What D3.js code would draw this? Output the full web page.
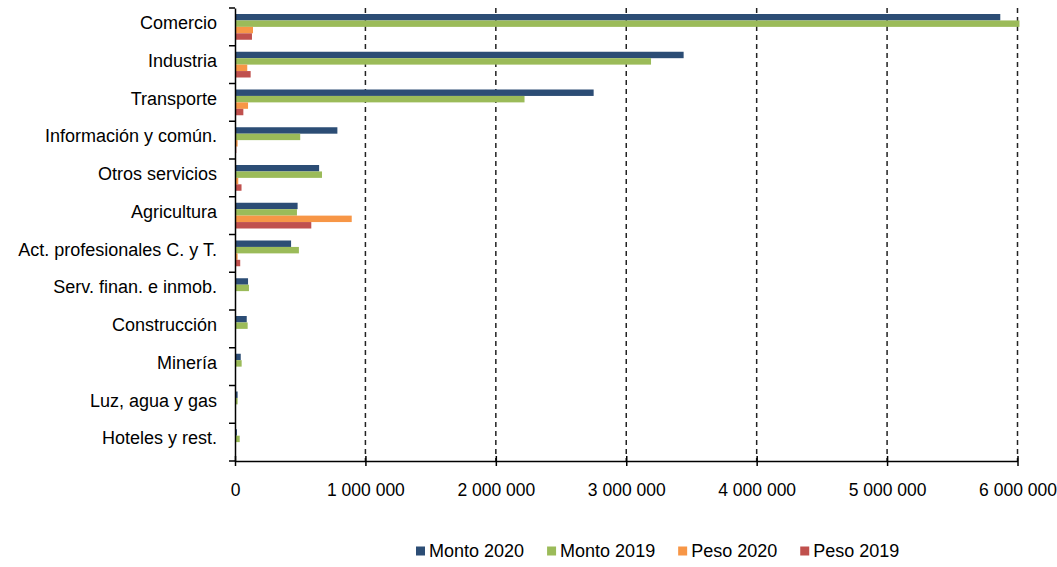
<!DOCTYPE html>
<html>
<head>
<meta charset="utf-8">
<script src="https://cdn.jsdelivr.net/npm/d3@7"></script>
<style>
  body { margin: 0; background: #fff; }
  text { font-family: "Liberation Sans", Arial, sans-serif; fill: #000; }
</style>
</head>
<body>
<div id="chart"></div>
<script>

// categories, top to bottom
var sectores = ["Comercio", "Industria", "Transporte", "Información y común.", "Otros servicios",
  "Agricultura", "Act. profesionales C. y T.", "Serv. finan. e inmob.", "Construcción",
  "Minería", "Luz, agua y gas", "Hoteles y rest."];

var series = ["Monto 2020", "Monto 2019", "Peso 2020", "Peso 2019"];
var colores = ["#2c4d75", "#9bbb59", "#f79646", "#c0504d"];

var monto2020 = [5868000, 3440000, 2750000, 785000, 645000, 480000, 430000, 100000, 90000, 44000, 20000, 15000];
var monto2019 = [6015000, 3190000, 2220000, 500000, 667000, 475000, 490000, 107000, 97000, 51000, 20000, 36000];
var peso2020  = [138000, 94000, 100000, 20000, 25000, 895000, 20000, 0, 0, 0, 0, 0];
var peso2019  = [130000, 120000, 64000, 10000, 50000, 585000, 40000, 0, 0, 0, 0, 0];

var xTicks = [0, 1000000, 2000000, 3000000, 4000000, 5000000, 6000000];
var xTickLabels = ["0", "1 000 000", "2 000 000", "3 000 000", "4 000 000", "5 000 000", "6 000 000"];

var valores = [monto2020, monto2019, peso2020, peso2019];

var W = 1057, H = 567;
var margin = {top: 8, right: 39, bottom: 106, left: 235};
var width = W - margin.left - margin.right,
    height = H - margin.top - margin.bottom;

var svg = d3.select("#chart").append("svg")
    .attr("width", W)
    .attr("height", H);

var g = svg.append("g")
    .attr("transform", "translate(" + margin.left + "," + margin.top + ")");

var x = d3.scaleLinear().domain([0, 6000000]).range([0, 782.5]);
var y = d3.scaleBand().domain(sectores).range([0, height]);
var yInner = d3.scaleBand().domain(series).range([6, y.bandwidth() - 6]);

// dashed gridlines
g.selectAll(".grid")
  .data(xTicks.slice(1))
  .enter().append("line")
    .attr("x1", function(d) { return x(d); })
    .attr("x2", function(d) { return x(d); })
    .attr("y1", 0)
    .attr("y2", height)
    .attr("stroke", "#222")
    .attr("stroke-width", 1.5)
    .attr("stroke-dasharray", "5,4");

// bars
series.forEach(function(s, i) {
  g.selectAll(".bar" + i)
    .data(sectores)
    .enter().append("rect")
      .attr("x", x(0))
      .attr("y", function(d) { return y(d) + yInner(s); })
      .attr("width", function(d, j) { return x(valores[i][j]) - x(0); })
      .attr("height", yInner.bandwidth())
      .attr("fill", colores[i]);
});

// y axis
var yAxis = g.append("g")
    .call(d3.axisLeft(y).tickSize(0).tickPadding(18));
yAxis.select(".domain").attr("stroke", "#000").attr("stroke-width", 1.5);
yAxis.selectAll("text").style("font-size", "18px").attr("dy", "0.35em").attr("y", -4);
g.selectAll(".ytick")
  .data(sectores.concat(["end"]))
  .enter().append("line")
    .attr("x1", -6).attr("x2", 0)
    .attr("y1", function(d, i) { return i * y.step(); })
    .attr("y2", function(d, i) { return i * y.step(); })
    .attr("stroke", "#000")
    .attr("stroke-width", 1.5);

// x axis
var xAxis = g.append("g")
    .attr("transform", "translate(0," + height + ")")
    .call(d3.axisBottom(x).tickValues(xTicks)
      .tickFormat(function(d, i) { return xTickLabels[i]; })
      .tickSizeInner(5).tickSizeOuter(0).tickPadding(18));
xAxis.select(".domain").attr("stroke", "#000").attr("stroke-width", 1.5);
xAxis.selectAll(".tick line").attr("stroke", "#000").attr("stroke-width", 1.5).attr("y1", -5);
xAxis.selectAll("text").style("font-size", "17.5px");

// legend
var legend = svg.append("g").attr("transform", "translate(416,551)");
var lx = 0;
series.forEach(function(s, i) {
  var item = legend.append("g").attr("transform", "translate(" + lx + ",0)");
  item.append("rect")
    .attr("x", 0).attr("y", -4.5)
    .attr("width", 9).attr("height", 9)
    .attr("fill", colores[i]);
  var t = item.append("text")
    .attr("x", 13).attr("dy", "0.35em")
    .style("font-size", "18px")
    .text(s);
  lx += 13 + t.node().getComputedTextLength() + 23;
});

</script>
</body>
</html>
